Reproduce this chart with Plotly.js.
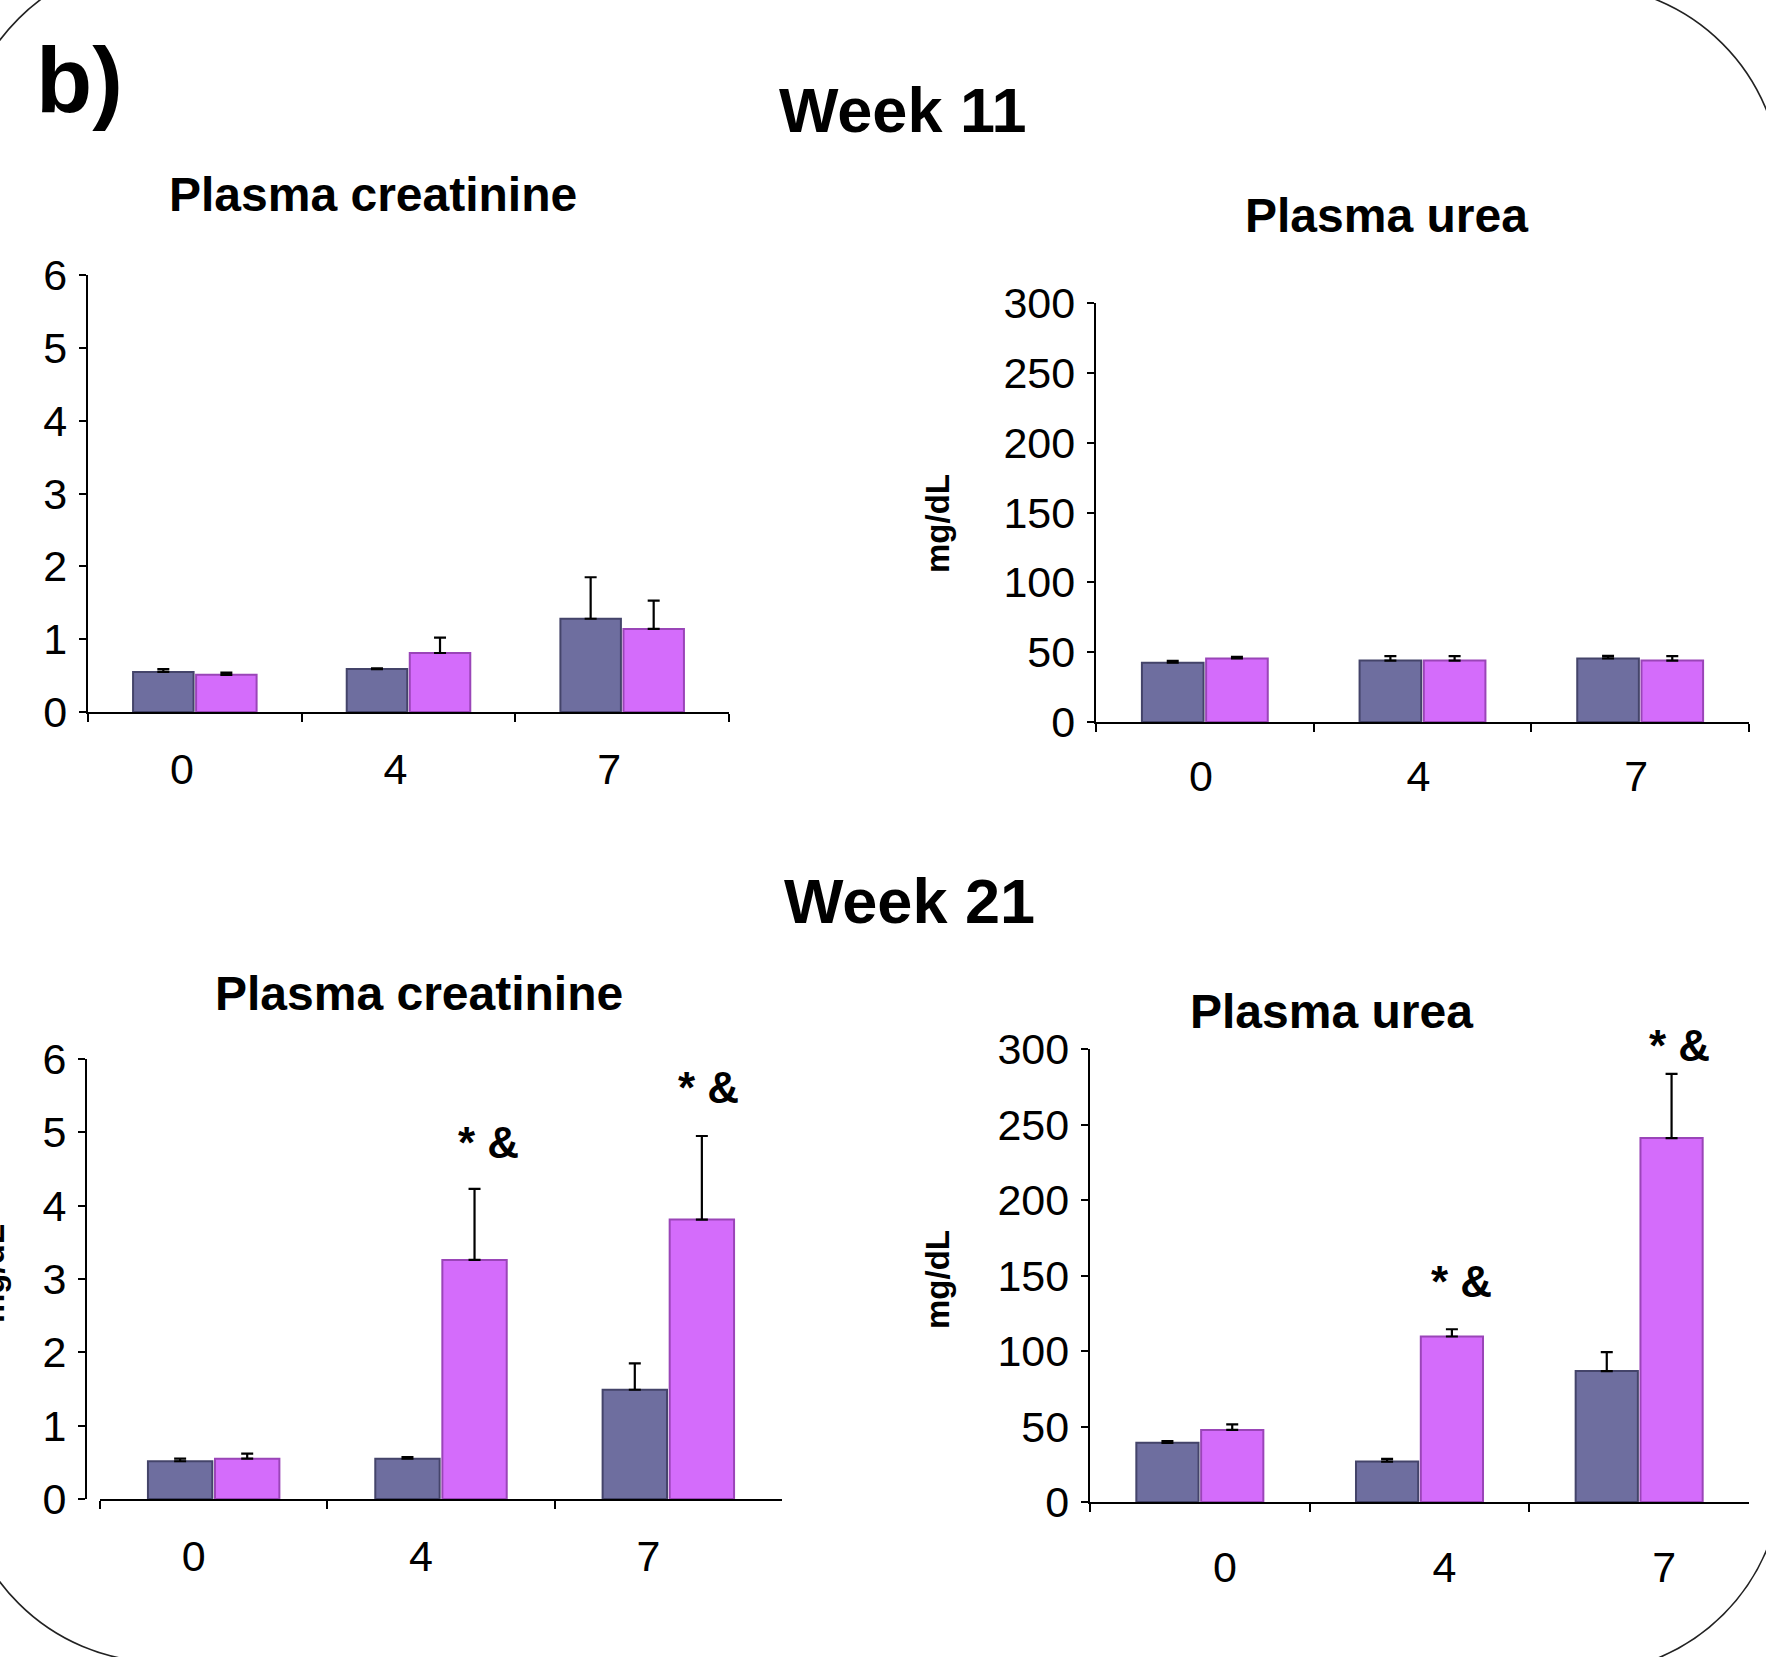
<!DOCTYPE html>
<html>
<head>
<meta charset="utf-8">
<script src="https://cdn.plot.ly/plotly-3.0.1.min.js"></script>
<style>html,body{margin:0;padding:0;background:#fff;}#chart{width:1766px;height:1657px;}</style>
</head>
<body>
<div id="chart"></div>
<script>
// ---------- data ----------
const categories = ['0', '4', '7'];

const w11CreatControl = [0.55, 0.59, 1.28];
const w11CreatControlErr = [0.04, 0.01, 0.57];
const w11CreatTreated = [0.51, 0.81, 1.14];
const w11CreatTreatedErr = [0.03, 0.21, 0.39];

const w11UreaControl = [42.5, 44.0, 45.5];
const w11UreaControlErr = [1.3, 3.2, 1.8];
const w11UreaTreated = [45.5, 44.0, 44.0];
const w11UreaTreatedErr = [1.2, 3.2, 3.2];

const w21CreatControl = [0.515, 0.55, 1.49];
const w21CreatControlErr = [0.035, 0.02, 0.36];
const w21CreatTreated = [0.55, 3.26, 3.81];
const w21CreatTreatedErr = [0.07, 0.97, 1.14];

const w21UreaControl = [39.2, 26.8, 86.7];
const w21UreaControlErr = [1.2, 1.7, 12.6];
const w21UreaTreated = [47.7, 109.6, 241.0];
const w21UreaTreatedErr = [3.7, 4.8, 42.5];

const w21CreatSig = ['', '* &', '* &'];
const w21UreaSig = ['', '* &', '* &'];

const creatTicks = [0, 1, 2, 3, 4, 5, 6];
const ureaTicks = [0, 50, 100, 150, 200, 250, 300];

// ---------- styling ----------
const W = 1766, H = 1657;
const FONT = 'Liberation Sans, Arial, Helvetica, sans-serif';
const DARK = '#6E6E9F', DARK_LINE = '#44446A';
const PINK = '#D46CFB', PINK_LINE = '#9A45B8';
const px = x => x / W;
const py = y => 1 - y / H;

function zeros(n) { return new Array(n).fill(0); }
function barTrace(y, err, color, line, xa, ya) {
  return {
    type: 'bar', x: categories, y: y, xaxis: xa, yaxis: ya,
    marker: {color: color, line: {color: line, width: 2}},
    error_y: {type: 'data', symmetric: false, array: err, arrayminus: zeros(err.length),
              color: '#000', thickness: 2.2, width: 6},
    hoverinfo: 'skip', showlegend: false
  };
}

const data = [
  barTrace(w11CreatControl, w11CreatControlErr, DARK, DARK_LINE, 'x', 'y'),
  barTrace(w11CreatTreated, w11CreatTreatedErr, PINK, PINK_LINE, 'x', 'y'),
  barTrace(w11UreaControl, w11UreaControlErr, DARK, DARK_LINE, 'x2', 'y2'),
  barTrace(w11UreaTreated, w11UreaTreatedErr, PINK, PINK_LINE, 'x2', 'y2'),
  barTrace(w21CreatControl, w21CreatControlErr, DARK, DARK_LINE, 'x3', 'y3'),
  barTrace(w21CreatTreated, w21CreatTreatedErr, PINK, PINK_LINE, 'x3', 'y3'),
  barTrace(w21UreaControl, w21UreaControlErr, DARK, DARK_LINE, 'x4', 'y4'),
  barTrace(w21UreaTreated, w21UreaTreatedErr, PINK, PINK_LINE, 'x4', 'y4')
];

function xAxis(x0, x1, anchor, shift, standoff) {
  return {
    domain: [px(x0), px(x1)], anchor: anchor, type: 'category',
    categoryorder: 'array', categoryarray: categories,
    range: [-0.5, categories.length - 0.5], autorange: false,
    showline: true, linecolor: '#000', linewidth: 2.2,
    ticks: 'outside', tickson: 'boundaries', ticklen: 8, tickwidth: 2, tickcolor: '#000',
    showgrid: false, zeroline: false, fixedrange: true,
    tickfont: {family: FONT, size: 43, color: '#000'},
    ticklabelstandoff: standoff, ticklabelshift: shift
  };
}
function yAxis(yTop, yBot, anchor, range, ticks, position) {
  const ax = {
    domain: [py(yBot), py(yTop)], anchor: anchor, range: range,
    tickvals: ticks, ticktext: ticks.map(String),
    showline: true, linecolor: '#000', linewidth: 2.2,
    ticks: 'outside', ticklen: 7, tickwidth: 2, tickcolor: '#000',
    showgrid: false, zeroline: false, fixedrange: true,
    tickfont: {family: FONT, size: 43, color: '#000'},
    ticklabelstandoff: 3
  };
  if (position !== undefined) { ax.anchor = 'free'; ax.position = px(position); }
  return ax;
}

function label(text, x, y, size, opts) {
  return Object.assign({
    text: text, xref: 'paper', yref: 'paper', x: px(x), y: py(y),
    xanchor: 'center', yanchor: 'middle', showarrow: false,
    font: {family: FONT, size: size, color: '#000'}
  }, opts || {});
}

const annotations = [
  label('<b>b)</b>', 79, 80, 92),
  label('<b>Week 11</b>', 903, 110, 63),
  label('<b>Week 21</b>', 909, 901, 63),
  label('<b>Plasma creatinine</b>', 373, 194, 48),
  label('<b>Plasma urea</b>', 1386, 215, 48),
  label('<b>Plasma creatinine</b>', 419, 993, 48),
  label('<b>Plasma urea</b>', 1331, 1011, 48),
  label('<b>mg/dL</b>', 937, 524, 33, {textangle: -90}),
  label('<b>mg/dL</b>', 937, 1280, 33, {textangle: -90}),
  label('<b>mg/dL</b>', -8, 1274, 33, {textangle: -90})
];

// significance marks placed above treated error bars
const sigShiftX = [[0, 47, 40], [0, 42, 40]];
const sigShiftY = [[0, 46, 49], [0, 48, 28]];
[[w21CreatSig, w21CreatTreated, w21CreatTreatedErr, 'x3', 'y3'],
 [w21UreaSig, w21UreaTreated, w21UreaTreatedErr, 'x4', 'y4']].forEach((p, k) => {
  p[0].forEach((t, i) => {
    if (!t) return;
    annotations.push({
      text: '<b>' + t + '</b>', xref: p[3], yref: p[4], x: i, y: p[1][i] + p[2][i],
      xshift: sigShiftX[k][i], yshift: sigShiftY[k][i], showarrow: false,
      xanchor: 'center', yanchor: 'middle',
      font: {family: FONT, size: 44, color: '#000'}
    });
  });
});

// rounded frame (only the corners are visible)
const k = 0.5523 * 200;
const pts = (a) => a.map((v, i) => (i % 2 === 0 ? px(v) : py(v)).toFixed(5));
function seg(cmd, a) {
  const p = pts(a);
  const pairs = [];
  for (let i = 0; i < p.length; i += 2) pairs.push(p[i] + ',' + p[i + 1]);
  return cmd + pairs.join(' ') + ' ';
}
const path =
  seg('M', [-40, 160]) +
  seg('C', [-40, 160 - k, 160 - k, -40, 160, -40]) +
  seg('L', [1581, -15]) +
  seg('C', [1581 + k, -15, 1781, 185 - k, 1781, 185]) +
  seg('L', [1782, 1473]) +
  seg('C', [1782, 1473 + k, 1582 + k, 1673, 1582, 1673]) +
  seg('L', [160, 1662]) +
  seg('C', [160 - k, 1662, -40, 1462 + k, -40, 1462]) + 'Z';

const layout = {
  width: W, height: H,
  margin: {l: 0, r: 0, t: 0, b: 0, pad: 0},
  paper_bgcolor: '#fff', plot_bgcolor: 'rgba(0,0,0,0)',
  barmode: 'group', bargap: 0.41, bargroupgap: 0.04,
  showlegend: false,
  xaxis: xAxis(88, 729, 'y', -13, 18),
  yaxis: yAxis(275, 712, 'x', [0, 6], creatTicks),
  xaxis2: xAxis(1096, 1749, 'y2', -4, 15),
  yaxis2: yAxis(303, 722, 'x2', [0, 300], ureaTicks),
  xaxis3: xAxis(100, 782, 'y3', -20, 18),
  yaxis3: yAxis(1059, 1499, 'x3', [0, 6], creatTicks, 86),
  xaxis4: xAxis(1090, 1749, 'y4', 25, 26),
  yaxis4: yAxis(1049, 1502, 'x4', [0, 300], ureaTicks),
  annotations: annotations,
  shapes: [{type: 'path', xref: 'paper', yref: 'paper', path: path,
            line: {color: '#222', width: 1.6}, fillcolor: 'rgba(0,0,0,0)', layer: 'above'}]
};

Plotly.newPlot('chart', data, layout, {displayModeBar: false, staticPlot: true});
</script>
</body>
</html>
